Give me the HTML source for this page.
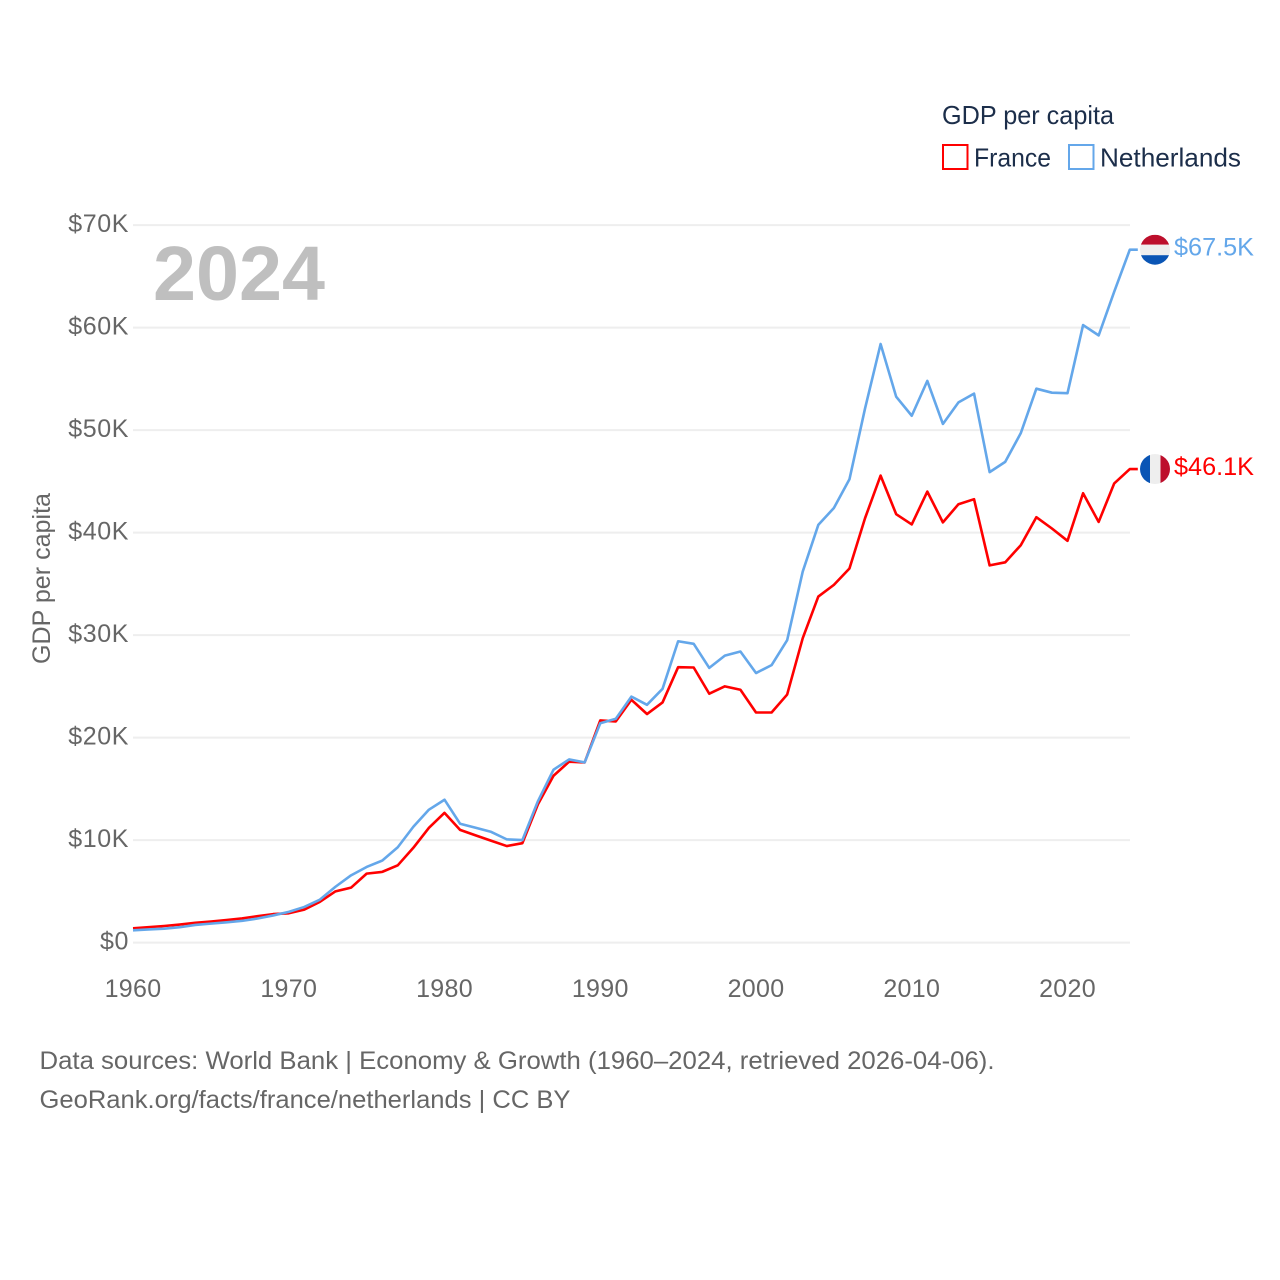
<!DOCTYPE html>
<html lang="en">
<head>
<meta charset="utf-8">
<title>GDP per capita: France and Netherlands</title>
<style>
  html, body { margin: 0; padding: 0; background: #fff; }
  svg { display: block; font-family: "Liberation Sans", "DejaVu Sans", sans-serif; }
  .tick { fill: #666; font-size: 25px; }
  .legend-text { fill: #1c2e4a; font-size: 26px; }
  .foot { fill: #666; font-size: 25px; }
</style>
</head>
<body>
<svg id="chart" width="1280" height="1280" viewBox="0 0 1280 1280" xmlns="http://www.w3.org/2000/svg">
  <rect x="0" y="0" width="1280" height="1280" fill="#fff"/>
  <g id="grid"></g>
  <g id="yticks"></g>
  <g id="xticks"></g>
  <text class="tick" transform="translate(50,578.5) rotate(-90)" text-anchor="middle" textLength="171" lengthAdjust="spacingAndGlyphs">GDP per capita</text>
  <text x="153" y="300" font-size="77" font-weight="700" fill="#bfbfbf" textLength="172" lengthAdjust="spacingAndGlyphs">2024</text>
  <g id="series"></g>
  <g id="flags">
    <clipPath id="clip-nl"><circle cx="1155" cy="0" r="15"/></clipPath>
    <clipPath id="clip-fr"><circle cx="1155" cy="0" r="15"/></clipPath>
    <g id="flag-nl" clip-path="url(#clip-nl)">
      <rect x="1140" y="-15" width="30" height="10" fill="#bd0f2c"/>
      <rect x="1140" y="-5" width="30" height="10.5" fill="#eeeeee"/>
      <rect x="1140" y="5.5" width="30" height="10" fill="#0a55b5"/>
    </g>
    <g id="flag-fr" clip-path="url(#clip-fr)">
      <rect x="1140" y="-15" width="10" height="30" fill="#0a55b5"/>
      <rect x="1150" y="-15" width="10.5" height="30" fill="#eeeeee"/>
      <rect x="1160.5" y="-15" width="9.5" height="30" fill="#bd0f2c"/>
    </g>
  </g>
  <g id="endlabels"></g>
  <g>
    <text class="legend-text" x="942" y="124" textLength="172" lengthAdjust="spacingAndGlyphs">GDP per capita</text>
    <g>
      <rect x="943" y="145" width="24.5" height="24" fill="none" stroke="#ff0000" stroke-width="2"/>
      <text class="legend-text" x="974" y="166.5" textLength="77" lengthAdjust="spacingAndGlyphs">France</text>
    </g>
    <g>
      <rect x="1069" y="145" width="24.5" height="24" fill="none" stroke="#64a7ea" stroke-width="2"/>
      <text class="legend-text" x="1100" y="166.5" textLength="141" lengthAdjust="spacingAndGlyphs">Netherlands</text>
    </g>
  </g>
  <text class="foot" x="39.5" y="1069" textLength="955" lengthAdjust="spacingAndGlyphs">Data sources: World Bank | Economy &amp; Growth (1960–2024, retrieved 2026-04-06).</text>
  <text class="foot" x="39.5" y="1108" textLength="531" lengthAdjust="spacingAndGlyphs">GeoRank.org/facts/france/netherlands | CC BY</text>
</svg>
<script>
const startYear = 1960;
const yearTicks = [1960, 1970, 1980, 1990, 2000, 2010, 2020];
const valueTicks = [0, 10, 20, 30, 40, 50, 60, 70];
const france = [
  1.40, 1.50, 1.62, 1.76, 1.93, 2.05, 2.20, 2.36, 2.58, 2.78,
  2.86, 3.22, 3.98, 5.00, 5.36, 6.73, 6.90, 7.54, 9.25, 11.2,
  12.66, 11.0, 10.46, 9.94, 9.42, 9.70, 13.5, 16.28, 17.65, 17.58,
  21.67, 21.58, 23.69, 22.30, 23.43, 26.87, 26.84, 24.28, 25.0, 24.67,
  22.45, 22.45, 24.2, 29.7, 33.76, 34.9, 36.5, 41.4, 45.56, 41.8,
  40.8, 44.0, 41.0, 42.77, 43.26, 36.8, 37.1, 38.77, 41.5, 40.4,
  39.2, 43.84, 41.04, 44.8, 46.2
];
const netherlands = [
  1.20, 1.28, 1.36, 1.50, 1.72, 1.85, 1.98, 2.12, 2.35, 2.65,
  3.00, 3.48, 4.19, 5.45, 6.56, 7.38, 8.00, 9.30, 11.3, 12.97,
  13.94, 11.6, 11.2, 10.8, 10.07, 10.0, 13.8, 16.87, 17.87, 17.58,
  21.4, 21.84, 24.0, 23.2, 24.76, 29.4, 29.15, 26.8, 28.0, 28.4,
  26.3, 27.07, 29.5, 36.2, 40.75, 42.4, 45.2, 52.1, 58.4, 53.26,
  51.4, 54.8, 50.6, 52.7, 53.56, 45.9, 46.9, 49.7, 54.04, 53.65,
  53.6, 60.25, 59.24, 63.5, 67.6
];
const franceEndLabel = "$46.1K";
const netherlandsEndLabel = "$67.5K";

const SVG_NS = "http://www.w3.org/2000/svg";
function xScale(year) { return 133 + (year - 1960) * 15.575; }
function yScale(v) { return 942.6 - v * 10.25; }
function make(tag, attrs, parent) {
  const el = document.createElementNS(SVG_NS, tag);
  for (const k in attrs) el.setAttribute(k, attrs[k]);
  parent.appendChild(el);
  return el;
}
const gridG = document.getElementById("grid");
const yG = document.getElementById("yticks");
const xG = document.getElementById("xticks");
const seriesG = document.getElementById("series");
const endG = document.getElementById("endlabels");

valueTicks.forEach(function (v) {
  const line = make("line", { x1: 133, x2: 1130, y1: yScale(v), y2: yScale(v), stroke: "#eeeeee", "stroke-width": 2 }, gridG);
  
  
  const label = make("text", { x: 129, y: yScale(v) + 7, "text-anchor": "end", "class": "tick", "letter-spacing": "0.6" }, yG);
  
  
  label.textContent = v === 0 ? "$0" : "$" + v + "K";
});

yearTicks.forEach(function (yr) {
  const label = make("text", { x: xScale(yr), y: 997, "text-anchor": "middle", "class": "tick", "letter-spacing": "0.3" }, xG);
  
  
  label.textContent = yr;
});

function drawSeries(values, color, name) {
  let d = "";
  values.forEach(function (v, i) {
    d += (i ? "L" : "M") + xScale(startYear + i).toFixed(2) + " " + yScale(v).toFixed(2);
  });
  const lastY = yScale(values[values.length - 1]);
  d += "H" + (xScale(startYear + values.length - 1) + 8).toFixed(2);
  const path = make("path", { d: d, fill: "none", stroke: color, "stroke-width": 2.6, "stroke-linejoin": "round" }, seriesG);
  
  
  return lastY;
}
const frY = drawSeries(france, "#ff0000", "france-line");
const nlY = drawSeries(netherlands, "#64a7ea", "netherlands-line");

document.getElementById("flag-nl").setAttribute("transform", "translate(0," + nlY + ")");
document.getElementById("flag-fr").setAttribute("transform", "translate(0," + frY + ")");

const nlLabel = make("text", { x: 1174, y: nlY + 6, fill: "#64a7ea", "font-size": 25, textLength: 80, lengthAdjust: "spacingAndGlyphs" }, endG);


nlLabel.textContent = netherlandsEndLabel;
const frLabel = make("text", { x: 1174, y: frY + 6, fill: "#ff0000", "font-size": 25, textLength: 80, lengthAdjust: "spacingAndGlyphs" }, endG);


frLabel.textContent = franceEndLabel;
</script>
</body>
</html>
